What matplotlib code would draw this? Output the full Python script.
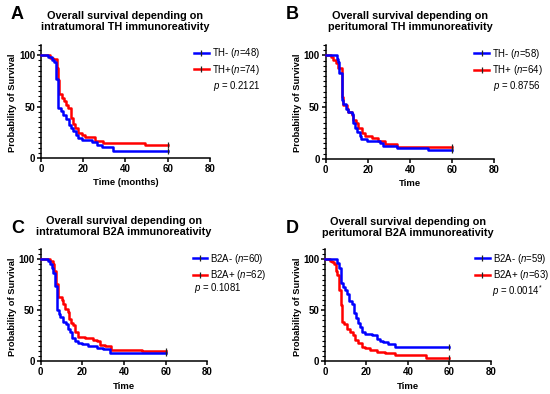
import matplotlib
matplotlib.use('Agg')
import matplotlib.pyplot as plt
from matplotlib.lines import Line2D
from matplotlib.ticker import MultipleLocator

plt.rcParams['font.family'] = ['Liberation Sans', 'DejaVu Sans']
plt.rcParams['mathtext.fontset'] = 'custom'
plt.rcParams['mathtext.rm'] = 'Liberation Sans'
plt.rcParams['mathtext.it'] = 'Liberation Sans:italic'
plt.rcParams['mathtext.bf'] = 'Liberation Sans:bold'

# Kaplan-Meier step data (time in months, survival in %)
# A: intratumoral TH
a_neg_t = [0, 3.5, 5.4, 6.3, 7.1, 8.2, 9.3, 10.6, 11.7, 13.4, 14.2, 15.3, 16.6, 17.7, 19.3, 24.0, 26.4, 28.7, 34.2, 60]
a_neg_s = [100, 97.9, 95.8, 93.0, 76.5, 48.9, 45.6, 42.3, 38.4, 32.6, 29.3, 26.0, 22.0, 19.5, 17.3, 15.6, 13.0, 10.7, 6.5, 6.5]
a_pos_t = [0, 4.5, 5.8, 7.4, 8.0, 8.6, 9.8, 10.9, 11.8, 12.9, 14.0, 15.3, 16.1, 17.7, 19.3, 20.8, 25.6, 29.5, 49.2, 60]
a_pos_s = [100, 97.3, 95.9, 87.8, 76.0, 62.2, 58.6, 55.4, 52.0, 48.9, 38.5, 33.0, 29.3, 24.4, 22.0, 20.0, 16.3, 14.5, 12.2, 12.2]

# B: peritumoral TH
b_neg_t = [0, 5.2, 6.0, 6.5, 7.6, 8.4, 9.7, 10.8, 12.4, 13.2, 14.0, 14.7, 16.3, 17.0, 19.5, 25.8, 27.4, 33.8, 48.8, 60]
b_neg_s = [100, 96.6, 93.1, 82.8, 56.9, 53.4, 48.3, 44.8, 43.1, 34.5, 29.3, 25.9, 22.4, 19.0, 17.2, 15.5, 12.1, 10.3, 8.0, 8.0]
b_pos_t = [0, 2.4, 3.6, 4.9, 6.0, 7.6, 8.4, 10.0, 10.8, 12.4, 13.2, 14.3, 15.5, 17.1, 18.7, 21.9, 25.0, 28.2, 33.8, 60]
b_pos_s = [100, 98.4, 95.3, 92.2, 87.5, 59.4, 51.6, 48.4, 45.3, 42.2, 37.5, 34.4, 29.7, 25.0, 21.9, 20.3, 17.2, 14.1, 10.9, 10.9]

# C: intratumoral B2A
c_neg_t = [0, 3.7, 4.5, 5.3, 6.1, 7.0, 7.8, 8.6, 9.5, 10.6, 12.0, 13.3, 14.0, 15.2, 16.5, 18.1, 20.0, 22.9, 26.9, 30.0, 33.3, 60]
c_neg_s = [100, 98.3, 95.0, 91.7, 86.7, 73.3, 50.0, 46.7, 43.3, 38.3, 36.7, 31.7, 28.3, 23.3, 20.0, 18.3, 16.7, 15.0, 13.3, 11.7, 8.3, 8.3]
c_pos_t = [0, 4.5, 6.1, 6.5, 7.3, 8.3, 10.1, 10.9, 11.7, 13.0, 13.6, 14.5, 15.7, 16.5, 18.1, 21.3, 25.3, 26.9, 28.5, 30.9, 33.8, 48.5, 60]
c_pos_s = [100, 98.4, 95.2, 88.7, 75.8, 62.9, 59.7, 56.5, 51.6, 48.4, 41.9, 37.1, 35.5, 29.0, 24.2, 22.6, 21.0, 19.4, 16.1, 14.5, 11.3, 9.7, 9.7]

# D: peritumoral B2A
d_neg_t = [0, 6.0, 6.9, 7.7, 8.5, 9.7, 10.8, 11.6, 12.9, 14.0, 15.0, 16.1, 16.9, 17.7, 19.3, 22.5, 25.0, 26.6, 28.2, 30.6, 33.8, 60]
d_neg_s = [100, 96.6, 91.5, 76.3, 72.9, 69.5, 66.1, 59.3, 55.9, 47.5, 42.4, 37.3, 33.9, 28.8, 27.1, 25.4, 22.0, 20.3, 18.6, 16.9, 14.4, 14.4]
d_pos_t = [0, 2.4, 3.3, 4.3, 5.3, 5.9, 6.8, 7.6, 8.4, 9.2, 10.5, 12.1, 13.4, 14.5, 16.1, 17.7, 19.3, 21.7, 25.0, 28.9, 33.8, 48.8, 60]
d_pos_s = [100, 98.4, 96.8, 95.2, 88.9, 84.1, 69.8, 55.6, 38.1, 36.5, 31.7, 28.6, 25.4, 20.6, 17.5, 14.3, 12.7, 11.1, 9.5, 7.9, 6.3, 3.2, 3.2]

panels = [
    dict(letter='A', title='Overall survival depending on\nintratumoral TH immunoreativity',
         xlabel='Time (months)', neg=(a_neg_t, a_neg_s), pos=(a_pos_t, a_pos_s),
         labels=['TH- ($n$=48)', 'TH+($n$=74)'], p='$p$ = 0.2121',
         rect=(0.0745, 0.599, 0.3073, 0.2868), letter_xy=(0.020, 0.962), title_y=1.211,
         leg=(0.905, 0.99), p_xy=(1.02, 0.637)),
    dict(letter='B', title='Overall survival depending on\nperitumoral TH immunoreativity',
         xlabel='Time', neg=(b_neg_t, b_neg_s), pos=(b_pos_t, b_pos_s),
         labels=['TH- ($n$=58)', 'TH+ ($n$=64)'], p='$p$ = 0.8756',
         rect=(0.5922, 0.5972, 0.306, 0.2886), letter_xy=(0.520, 0.962), title_y=1.207,
         leg=(0.883, 0.985), p_xy=(0.996, 0.639)),
    dict(letter='C', title='Overall survival depending on\nintratumoral B2A immunoreativity',
         xlabel='Time', neg=(c_neg_t, c_neg_s), pos=(c_pos_t, c_pos_s),
         labels=['B2A- ($n$=60)', 'B2A+ ($n$=62)'], p='$p$ = 0.1081',
         rect=(0.074, 0.083, 0.3029, 0.285), letter_xy=(0.020, 0.42), title_y=1.200,
         leg=(0.912, 0.975), p_xy=(0.922, 0.653)),
    dict(letter='D', title='Overall survival depending on\nperitumoral B2A immunoreativity',
         xlabel='Time', neg=(d_neg_t, d_neg_s), pos=(d_pos_t, d_pos_s),
         labels=['B2A- ($n$=59)', 'B2A+ ($n$=63)'], p='$p$ = 0.0014$^{*}$',
         rect=(0.5909, 0.083, 0.3013, 0.285), letter_xy=(0.520, 0.42), title_y=1.191,
         leg=(0.905, 0.975), p_xy=(1.006, 0.623)),
]

blue = '#0000ff'
red = '#ff0000'

fig = plt.figure(figsize=(5.5, 3.94), dpi=100)

for pan in panels:
    ax = fig.add_axes(pan['rect'])
    # red first so the blue curve sits on top, as in the original
    for (t, s), col in [(pan['pos'], red), (pan['neg'], blue)]:
        ax.step(t, s, where='post', color=col, lw=1.8, clip_on=False, zorder=3)
        ax.plot(t[-1], s[-1], marker='|', color='#222222', ms=4, mew=0.9, clip_on=False, zorder=4)

    ax.set_xlim(0, 80)
    ax.set_ylim(0, 110)
    ax.set_xticks([0, 20, 40, 60, 80])
    ax.set_yticks([0, 50, 100])
    ax.yaxis.set_minor_locator(MultipleLocator(5))
    for side in ['top', 'right']:
        ax.spines[side].set_visible(False)
    for side in ['left', 'bottom']:
        ax.spines[side].set_linewidth(1.1)
    ax.tick_params(which='major', length=3, width=1.1, labelsize=7.0, pad=1.2)
    ax.tick_params(which='minor', length=2, width=0.8)
    for lab in ax.get_xticklabels() + ax.get_yticklabels():
        lab.set_fontweight('bold')

    ax.set_ylabel('Probability of Survival', fontsize=6.7, fontweight='bold')
    ax.set_xlabel(pan['xlabel'], fontsize=6.8, fontweight='bold')
    ax.yaxis.label.set_va('center')
    ax.xaxis.label.set_va('center')
    ax.yaxis.set_label_coords(-0.168, 0.49)
    ax.xaxis.set_label_coords(0.5, -0.22)

    ax.text(0.5, pan['title_y'], pan['title'], transform=ax.transAxes, ha='center', va='center',
            fontsize=7.8, fontweight='bold', linespacing=1.12)
    fig.text(pan['letter_xy'][0], pan['letter_xy'][1], pan['letter'], ha='left', va='center',
             fontsize=13, fontweight='bold')

    handles = [Line2D([], [], color=c, lw=1.8, marker='|', mec='#222222', ms=4, mew=0.9)
               for c in [blue, red]]
    ax.legend(handles, pan['labels'], loc='upper left', bbox_to_anchor=pan['leg'], frameon=False,
              fontsize=6.9, borderpad=0, borderaxespad=0, handlelength=1.55, handletextpad=0.3,
              labelspacing=0.25)
    ax.text(pan['p_xy'][0], pan['p_xy'][1], pan['p'], transform=ax.transAxes, ha='left', va='center',
            fontsize=6.9)

fig.savefig('out.png', dpi=100)
